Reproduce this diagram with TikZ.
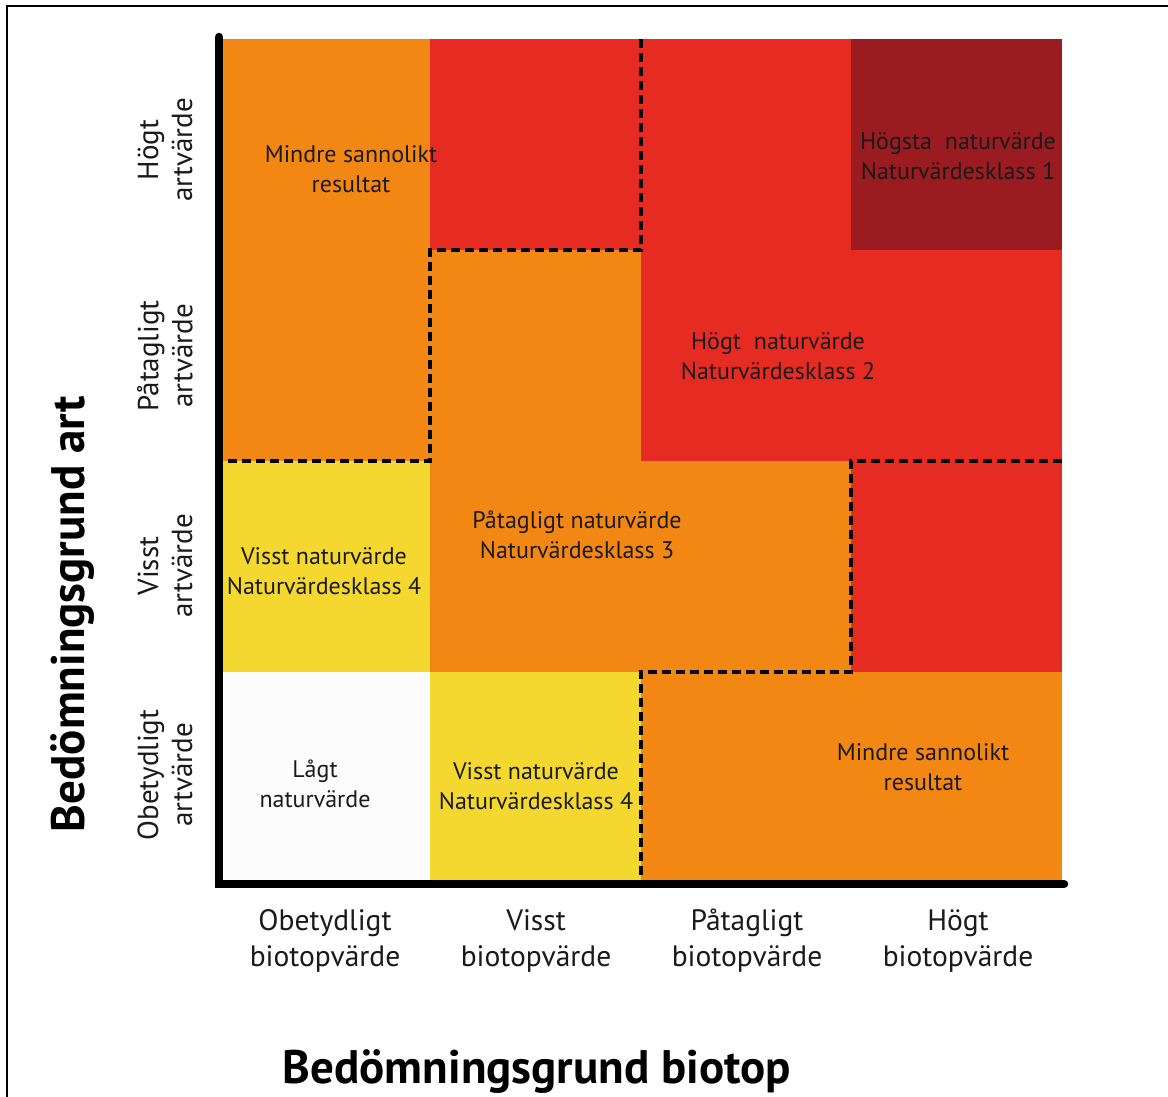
\documentclass[tikz,border=0pt]{standalone}
\usepackage{fontspec}
\setmainfont{PT Sans}
\definecolor{cOrange}{HTML}{F28714}
\definecolor{cRed}{HTML}{E52B22}
\definecolor{cDark}{HTML}{9A1B20}
\definecolor{cYellow}{HTML}{F5D82F}
\definecolor{cWhite}{HTML}{FCFCFC}
\definecolor{cText}{HTML}{1A1A1A}
\begin{document}
\begin{tikzpicture}[x=1pt,y=-1pt,
  celltext/.style={align=center,text=cText,font=\fontsize{24}{30}\selectfont,inner sep=0pt},
  ylab/.style={align=center,text=cText,rotate=90,font=\fontsize{29}{34}\selectfont,inner sep=0pt},
  xlab/.style={align=center,text=cText,font=\fontsize{29.5}{36}\selectfont,inner sep=0pt},
  axtitle/.style={text=black,font=\fontsize{47}{52}\selectfont\bfseries,inner sep=0pt},
  border/.style={draw=black,line width=2pt},
  axisline/.style={draw=black,line width=8.5pt,line cap=round},
  dashline/.style={draw=black,line width=3.5pt,dash pattern=on 9pt off 5pt}]
\useasboundingbox (0,0) rectangle (1168,1097);
\clip (0,0) rectangle (1168,1097);
\fill[white] (0,0) rectangle (1168,1097);
\draw[border] (7,6) rectangle (1180,1110);
% cells: columns 219/430/641/851/1062, rows 39/250/461/672/883
% row 1
\fill[cOrange] (219,39) rectangle (430,250);
\fill[cRed] (430,39) rectangle (641,250);
\fill[cRed] (641,39) rectangle (851,250);
\fill[cDark] (851,39) rectangle (1062,250);
% row 2
\fill[cOrange] (219,250) rectangle (430,461);
\fill[cOrange] (430,250) rectangle (641,461);
\fill[cRed] (641,250) rectangle (851,461);
\fill[cRed] (851,250) rectangle (1062,461);
% row 3
\fill[cYellow] (219,461) rectangle (430,672);
\fill[cOrange] (430,461) rectangle (641,672);
\fill[cOrange] (641,461) rectangle (851,672);
\fill[cRed] (851,461) rectangle (1062,672);
% row 4
\fill[cWhite] (219,672) rectangle (430,883);
\fill[cYellow] (430,672) rectangle (641,883);
\fill[cOrange] (641,672) rectangle (851,883);
\fill[cOrange] (851,672) rectangle (1062,883);
% dashed boundaries
\coordinate (d1) at (641,39);
\coordinate (d2) at (641,250);
\coordinate (d3) at (430,250);
\coordinate (d4) at (430,461);
\coordinate (d5) at (221,461);
\draw[dashline] (d1) -- (d2) -- (d3) -- (d4) -- (d5);
\coordinate (e1) at (1062,461);
\coordinate (e2) at (851,461);
\coordinate (e3) at (851,672);
\coordinate (e4) at (641,672);
\coordinate (e5) at (641,881);
\draw[dashline] (e1) -- (e2) -- (e3) -- (e4) -- (e5);
% axes
\coordinate (ytop) at (219,37);
\coordinate (origin) at (219,884);
\coordinate (xend) at (1064,884);
\draw[axisline] (ytop) -- (origin) -- (xend);
% cell texts
\node[celltext] (t11) at (351,169) {Mindre sannolikt\\resultat};
\node[celltext] (t14) at (958,156) {Högsta\ \ naturvärde\\Naturvärdesklass 1};
\node[celltext] (t23) at (778,356) {Högt\ \ naturvärde\\Naturvärdesklass 2};
\node[celltext] (t32) at (577,535) {Påtagligt naturvärde\\Naturvärdesklass 3};
\node[celltext] (t31) at (324,571) {Visst naturvärde\\Naturvärdesklass 4};
\node[celltext] (t41) at (315,784) {Lågt\\naturvärde};
\node[celltext] (t42) at (536,786) {Visst naturvärde\\Naturvärdesklass 4};
\node[celltext] (t44) at (923,767) {Mindre sannolikt\\resultat};
% y labels
\node[ylab] (y1) at (165,150) {Högt\\artvärde};
\node[ylab] (y2) at (165,356) {Påtagligt\\artvärde};
\node[ylab] (y3) at (165,566) {Visst\\artvärde};
\node[ylab] (y4) at (165,775) {Obetydligt\\artvärde};
% x labels
\node[xlab] (x1) at (325,941) {Obetydligt\\biotopvärde};
\node[xlab] (x2) at (536,941) {Visst\\biotopvärde};
\node[xlab] (x3) at (747,941) {Påtagligt\\biotopvärde};
\node[xlab] (x4) at (958,941) {Högt\\biotopvärde};
% titles
\node[axtitle,rotate=90] (ty) at (73,614) {Bedömningsgrund art};
\node[axtitle] (tx) at (537,1072) {Bedömningsgrund biotop};
\end{tikzpicture}
\end{document}
